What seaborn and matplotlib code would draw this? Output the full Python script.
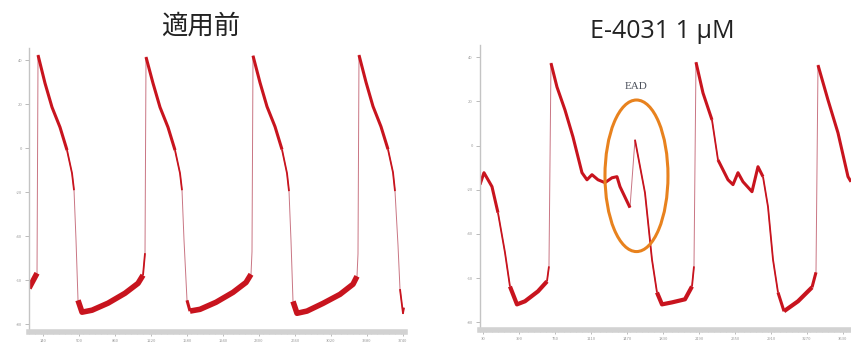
import numpy as np
import matplotlib
matplotlib.use("Agg")
import matplotlib.pyplot as plt
import seaborn as sns
from matplotlib.patches import Ellipse

# --- data (time in s, membrane potential in mV) ---
before_t = [0.00, 0.08, 0.09, 0.16, 0.23, 0.31, 0.38, 0.43, 0.45, 0.47, 0.49, 0.53, 0.63, 0.79, 0.96, 1.09, 1.14, 1.16,
            1.17, 1.24, 1.31, 1.39, 1.46, 1.51, 1.53, 1.55, 1.58, 1.61, 1.71, 1.87, 2.04, 2.17, 2.22, 2.23,
            2.24, 2.31, 2.38, 2.46, 2.53, 2.58, 2.60, 2.62, 2.64, 2.68, 2.78, 2.94, 3.11, 3.24, 3.28, 3.29,
            3.30, 3.37, 3.44, 3.52, 3.59, 3.64, 3.66, 3.69, 3.71, 3.74, 3.75]
before_v = [-63.6, -56.8, 42.3, 29.5, 18.6, 9.5, -0.9, -11.4, -19.1, -41.8, -69.1, -74.5, -73.6, -70.4, -65.9, -61.4, -57.7, -47.7,
            41.4, 29.5, 18.6, 9.5, -0.9, -11.4, -19.1, -41.8, -69.1, -74.0, -73.2, -70.0, -65.5, -61.0, -57.3, -47.0,
            42.0, 29.8, 18.9, 9.8, -0.6, -11.4, -19.5, -42.0, -69.6, -75.0, -74.0, -70.5, -66.4, -61.8, -58.2, -48.0,
            42.3, 30.0, 19.0, 9.8, -0.5, -11.0, -19.5, -44.0, -64.0, -75.0, -72.5]

e4031_t = [0.00, 0.04, 0.12, 0.18, 0.25, 0.30, 0.37, 0.45, 0.58, 0.67, 0.69,
           0.71, 0.77, 0.85, 0.93, 1.02, 1.07, 1.12, 1.18, 1.25, 1.32, 1.37, 1.40, 1.50, 1.55, 1.65, 1.72, 1.77,
           1.82, 1.92, 2.05, 2.12, 2.14,
           2.16, 2.23, 2.32, 2.38, 2.48, 2.53, 2.58, 2.63, 2.72, 2.78, 2.83, 2.88, 2.93, 2.98,
           3.04, 3.18, 3.32, 3.36,
           3.38, 3.48, 3.58, 3.68, 3.71]
e4031_v = [-17.7, -12.3, -18.6, -30.4, -48.4, -63.8, -71.9, -70.5, -66.0, -61.5, -54.7,
           37.3, 26.5, 16.1, 3.9, -12.3, -15.5, -13.2, -15.5, -16.8, -14.6, -14.1, -18.6, -28.1, 2.6, -21.4, -51.6, -66.5,
           -71.9, -71.0, -69.6, -63.8, -54.7,
           37.7, 23.8, 11.6, -6.5, -15.5, -17.7, -12.3, -16.4, -20.9, -9.6, -14.1, -27.7, -51.6, -66.5,
           -75.0, -70.5, -64.2, -57.4,
           36.4, 20.6, 5.7, -14.1, -16.4]

titles = ["適用前", "E-4031 1 μM"]
y_ticks = [40, 20, 0, -20, -40, -60, -80]
ead_label = "EAD"
ead_center = (1.565, -13.7)   # ellipse centre (s, mV)
ead_size = (0.63, 68.6)       # ellipse width (s) and height (mV)

sns.set_theme(style="white")
plt.rcParams['font.family'] = ['Noto Sans CJK JP', 'DejaVu Sans']

fig = plt.figure(figsize=(8.51, 3.48), dpi=100)
ax1 = fig.add_axes([0.0341, 0.046, 0.4418, 0.816])
ax2 = fig.add_axes([0.564, 0.0517, 0.436, 0.819])

trace_col = "#c8141e"
thin_col = "#c97583"


def draw_trace(ax, t, v, base_lw):
    t = np.asarray(t)
    v = np.asarray(v)
    # thin full trace (fast upstrokes stay thin like the recording)
    sns.lineplot(x=t, y=v, ax=ax, sort=False, estimator=None, color=thin_col, lw=0.7)
    # classify each segment by its slope on screen
    kinds = []
    for i in range(len(t) - 1):
        dx = (t[i + 1] - t[i]) * 100
        dy = abs(v[i + 1] - v[i]) / 0.452
        r = dy / max(dx, 1e-6)
        if r > 12:
            kinds.append(None)
        elif r > 4.5:
            kinds.append("mid")
        elif r < 3 and min(v[i], v[i + 1]) < -55:
            kinds.append("base")
        else:
            kinds.append("plat")
    widths = {"base": base_lw, "plat": 2.2, "mid": 1.3}
    # join consecutive segments of the same kind into one polyline
    i = 0
    while i < len(kinds):
        k = kinds[i]
        j = i
        while j + 1 < len(kinds) and kinds[j + 1] == k:
            j += 1
        if k is not None:
            ax.plot(t[i:j + 2], v[i:j + 2], color=trace_col, lw=widths[k],
                    solid_capstyle="butt", solid_joinstyle="round")
        i = j + 1


def style_axes(ax, xmax, first_tick):
    ax.set_xlim(0, xmax)
    ax.set_ylim(-83.5, 45.5)
    for s in ["top", "right"]:
        ax.spines[s].set_visible(False)
    ax.spines["left"].set_color("#c4c4c4")
    ax.spines["left"].set_linewidth(1.0)
    ax.spines["bottom"].set_color("#d2d2d2")
    ax.spines["bottom"].set_linewidth(4)
    ax.set_yticks(y_ticks)
    ax.set_yticklabels([str(y) for y in y_ticks])
    xt = np.arange(first_tick, xmax, 0.36)
    ax.set_xticks(xt)
    ax.set_xticklabels([str(int(round(x * 1000))) for x in xt])
    ax.set_xticks(np.arange(0, xmax, 0.06), minor=True)
    ax.tick_params(axis="both", which="major", labelsize=3, labelcolor="#9a9a9a",
                   color="#b0b0b0", length=3, width=0.6, pad=2, left=True, bottom=True)
    ax.tick_params(axis="x", which="minor", direction="inout", color="#a8a8a8",
                   length=3, width=0.4, bottom=True)
    ax.set_xlabel("")
    ax.set_ylabel("")
    ax.set_facecolor("white")


draw_trace(ax1, before_t, before_v, 4.0)
style_axes(ax1, 3.76, 0.14)

draw_trace(ax2, e4031_t, e4031_v, 3.0)
style_axes(ax2, 3.71, 0.03)

# EAD marker
ax2.add_patch(Ellipse(ead_center, ead_size[0], ead_size[1], fill=False,
                      edgecolor="#e8821e", lw=2.2, zorder=5))
ax2.text(ead_center[0], 26.5, ead_label, ha="center", va="center", fontsize=8,
         family=["Liberation Serif", "DejaVu Serif"], color="#4a4f5a")

# titles
fig.text(0.236, 0.926, titles[0], ha="center", va="center", fontsize=19,
         color="#222222")
fig.text(0.778, 0.910, titles[1], ha="center", va="center", fontsize=18,
         color="#222222", family=["Open Sans", "DejaVu Sans"])

fig.savefig("out.png", dpi=100, facecolor="white")
